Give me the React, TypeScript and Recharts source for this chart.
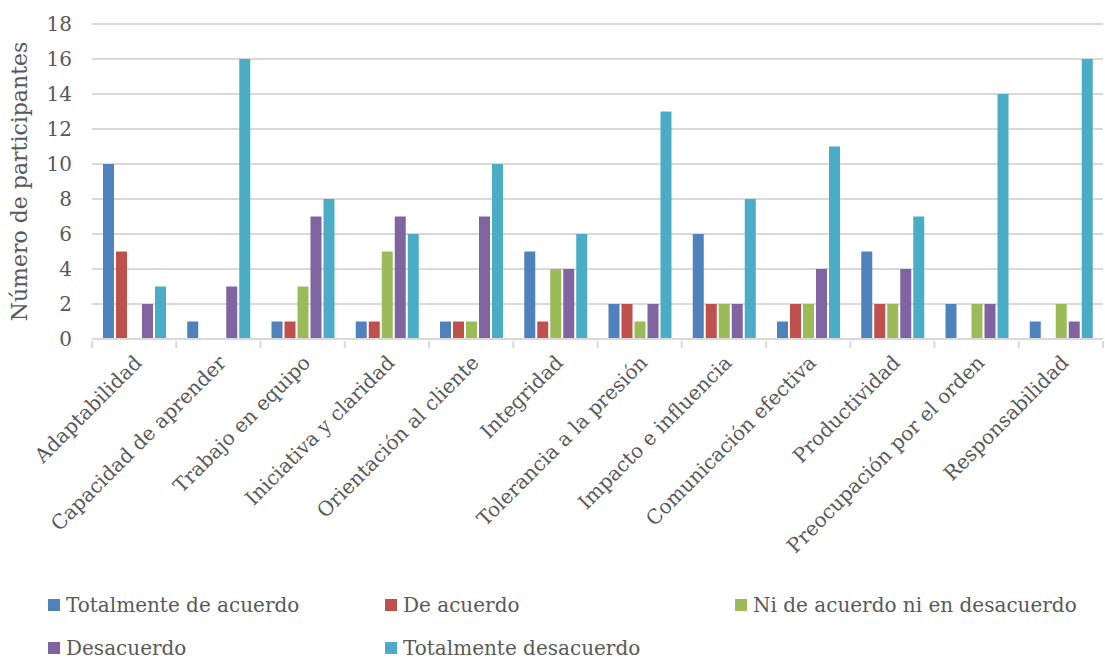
import React from 'react';
import { BarChart, Bar, XAxis, YAxis, CartesianGrid, Legend } from 'recharts';

const categories = [
  'Adaptabilidad',
  'Capacidad de aprender',
  'Trabajo en equipo',
  'Iniciativa y claridad',
  'Orientación al cliente',
  'Integridad',
  'Tolerancia a la presión',
  'Impacto e influencia',
  'Comunicación efectiva',
  'Productividad',
  'Preocupación por el orden',
  'Responsabilidad',
];

const totalmenteDeAcuerdo = [10, 1, 1, 1, 1, 5, 2, 6, 1, 5, 2, 1];
const deAcuerdo = [5, 0, 1, 1, 1, 1, 2, 2, 2, 2, 0, 0];
const niDeAcuerdo = [0, 0, 3, 5, 1, 4, 1, 2, 2, 2, 2, 2];
const desacuerdo = [2, 3, 7, 7, 7, 4, 2, 2, 4, 4, 2, 1];
const totalmenteDesacuerdo = [3, 16, 8, 6, 10, 6, 13, 8, 11, 7, 14, 16];

const yTicks = [0, 2, 4, 6, 8, 10, 12, 14, 16, 18];

const seriesNames = [
  'Totalmente de acuerdo',
  'De acuerdo',
  'Ni de acuerdo ni en desacuerdo',
  'Desacuerdo',
  'Totalmente desacuerdo',
];
const colors = ['#4F81BD', '#C0504D', '#9BBB59', '#8064A2', '#4BACC6'];
const keys = ['s0', 's1', 's2', 's3', 's4'];
const seriesValues = [totalmenteDeAcuerdo, deAcuerdo, niDeAcuerdo, desacuerdo, totalmenteDesacuerdo];

const data = categories.map((c, i) => {
  const row: any = { name: c };
  keys.forEach((k, j) => {
    row[k] = seriesValues[j][i];
  });
  return row;
});

const FONT = '"DejaVu Serif", serif';
const CHART_W = 1105;
const CHART_H = 659;
const LEFT = 92;
const RIGHT = 2;
const BAND = (CHART_W - LEFT - RIGHT) / categories.length;

const XTick = (props: any) => {
  const { x, y, payload, index } = props;
  const ax = x + 9;
  const ay = y + 23;
  return (
    <g>
      <line x1={x - BAND / 2} y1={y} x2={x - BAND / 2} y2={y + 7} stroke="#d9d9d9" strokeWidth={2} />
      {index === categories.length - 1 && (
        <line x1={x + BAND / 2} y1={y} x2={x + BAND / 2} y2={y + 7} stroke="#d9d9d9" strokeWidth={2} />
      )}
      <text
        x={ax}
        y={ay}
        transform={`rotate(-45, ${ax}, ${ay})`}
        textAnchor="end"
        fill="#595959"
        fontSize={20}
        fontFamily={FONT}
      >
        {payload.value}
      </text>
    </g>
  );
};

const legendPos = [
  { left: 48, top: 14 },
  { left: 385, top: 14 },
  { left: 735, top: 14 },
  { left: 48, top: 57 },
  { left: 385, top: 57 },
];

const LegendContent = () => (
  <div style={{ position: 'relative', width: CHART_W, height: 80 }}>
    {seriesNames.map((n, i) => (
      <div
        key={n}
        style={{
          position: 'absolute',
          left: legendPos[i].left,
          top: legendPos[i].top,
          display: 'flex',
          alignItems: 'center',
          fontFamily: FONT,
          fontSize: 20,
          lineHeight: '24px',
          color: '#595959',
          whiteSpace: 'nowrap',
        }}
      >
        <span style={{ display: 'inline-block', width: 12, height: 12, background: colors[i], marginRight: 6 }} />
        {n}
      </div>
    ))}
  </div>
);

export default function App() {
  return (
    <div style={{ position: 'absolute', left: 0, top: 0, width: CHART_W, height: CHART_H, background: '#fff' }}>
      <BarChart
        width={CHART_W}
        height={CHART_H}
        data={data}
        margin={{ top: 24, right: RIGHT, left: 0, bottom: 0 }}
        barSize={11}
        barGap={2}
      >
        <CartesianGrid vertical={false} stroke="#d9d9d9" strokeWidth={2} />
        <XAxis
          dataKey="name"
          interval={0}
          height={240}
          tick={<XTick />}
          tickSize={0}
          tickLine={false}
          axisLine={{ stroke: '#d9d9d9', strokeWidth: 2 }}
        />
        <YAxis
          width={LEFT}
          domain={[0, 18]}
          ticks={yTicks}
          interval={0}
          axisLine={false}
          tickLine={false}
          tickMargin={14}
          tick={{ fill: '#595959', fontSize: 20, fontFamily: FONT }}
          label={{
            value: 'Número de participantes',
            angle: -90,
            position: 'insideLeft',
            dx: 14,
            dy: 0,
            style: { textAnchor: 'middle', fill: '#595959', fontSize: 22, fontFamily: FONT },
          }}
        />
        <Legend verticalAlign="bottom" height={80} content={<LegendContent />} wrapperStyle={{ left: 0, bottom: 0, width: CHART_W }} />
        {keys.map((k, i) => (
          <Bar key={k} dataKey={k} name={seriesNames[i]} fill={colors[i]} isAnimationActive={false} />
        ))}
      </BarChart>
    </div>
  );
}
